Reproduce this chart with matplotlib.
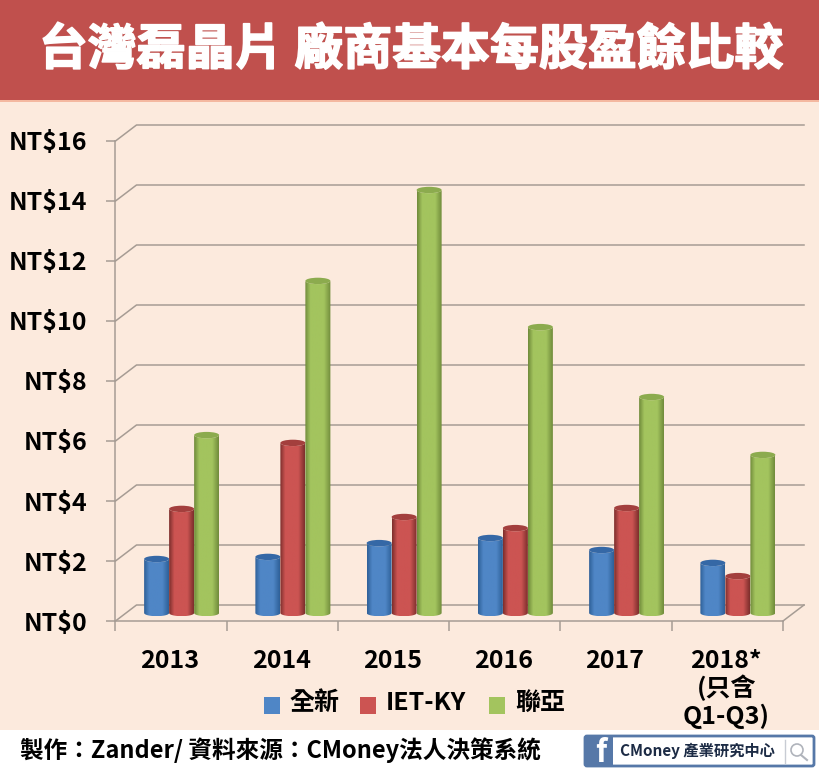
import numpy as np
import matplotlib
matplotlib.use("Agg")
import matplotlib.pyplot as plt
import matplotlib.patheffects as pe
from matplotlib.patches import PathPatch, Ellipse, Rectangle, FancyBboxPatch, Circle
from matplotlib.path import Path
from matplotlib.colors import LinearSegmentedColormap

plt.rcParams['font.family'] = ['Noto Sans CJK TC', 'DejaVu Sans']
plt.rcParams['font.weight'] = 'bold'

years = ['2013', '2014', '2015', '2016', '2017', '2018*\n(只含\nQ1-Q3)']
series_names = ['全新', 'IET-KY', '聯亞']
quanxin = [1.8, 1.87, 2.33, 2.5, 2.1, 1.67]
iet_ky = [3.47, 5.67, 3.2, 2.83, 3.5, 1.23]
lianya = [5.93, 11.07, 14.1, 9.53, 7.2, 5.27]
y_ticks = [0, 2, 4, 6, 8, 10, 12, 14, 16]

W, H = 820, 780
BG = '#FCEADD'
LINE = '#A69C94'
BANNER = '#C0504D'
# top cap, lit side, shaded edge
colors = [
    ('#3568A6', '#4F86C6', '#2F6199'),
    ('#A33F3D', '#CC5452', '#7E2F2D'),
    ('#8CAB4E', '#A3C45E', '#718C3C'),
]

fig = plt.figure(figsize=(W / 100, H / 100), dpi=100, facecolor='white')

# page layer in pixels
bg = fig.add_axes([0, 0, 1, 1])
bg.set_xlim(0, W)
bg.set_ylim(H, 0)
bg.axis('off')
bg.add_patch(Rectangle((0, 100), W, 630, fc=BG, ec='none'))
bg.add_patch(Rectangle((0, 0), W, 100, fc=BANNER, ec='none'))
bg.add_patch(Rectangle((0, 100), W, 1.5, fc='#F4B8A0', ec='none'))
title = bg.text(411, 50, '台灣磊晶片 廠商基本每股盈餘比較', color='white', fontsize=35.2,
                ha='center', va='center', fontweight='bold')
title.set_path_effects([pe.withStroke(linewidth=1.2, foreground='white')])
bg.text(20, 750, '製作：Zander/ 資料來源：CMoney法人決策系統', color='black', fontsize=17,
        ha='left', va='center', fontweight='bold')

# legend
leg_x = [264, 360, 489]
text_x = [289, 386, 515]
for c, lx, tx, name in zip(colors, leg_x, text_x, series_names):
    bg.add_patch(Rectangle((lx, 697), 16, 17, fc=c[1], ec='none'))
    bg.text(tx, 703, name, fontsize=18, ha='left', va='center', fontweight='bold')

# logo
bg.add_patch(FancyBboxPatch((585, 736), 229, 30, boxstyle='round,pad=0,rounding_size=2',
                            fc='white', ec='#5678A8', lw=2))
bg.add_patch(Rectangle((585, 736), 28, 30, fc='#5678A8', ec='none'))
bg.text(601, 753, 'f', color='white', fontsize=22, ha='center', va='center', fontweight='bold')
bg.text(620, 751, 'CMoney 產業研究中心', fontsize=11, ha='left', va='center', color='#1C2B45',
        fontweight='bold')
bg.plot([785, 785], [740, 763], color='#C8CCD4', lw=1)
bg.add_patch(Circle((797, 750), 6, fc='none', ec='#B0B4BC', lw=1.2))
bg.plot([801, 807], [755, 760], color='#B0B4BC', lw=1.5)

# chart front plane: x 115.5-783 px, y 621-141 px
ax = fig.add_axes([115.5 / W, 1 - 621 / H, (783 - 115.5) / W, 480 / H])
ax.patch.set_alpha(0)
ax.set_xlim(0, 6)
ax.set_ylim(0, 16)
for s in ['top', 'right']:
    ax.spines[s].set_visible(False)
for s in ['left', 'bottom']:
    ax.spines[s].set_color(LINE)
    ax.spines[s].set_linewidth(1.1)

dx = 21 / ((783 - 115.5) / 6)
dy = 16 / 30
for v in y_ticks:
    ax.plot([0, dx, 6 + dx], [v, v + dy, v + dy], color=LINE, lw=1.1, clip_on=False, zorder=1)
ax.plot([6, 6 + dx], [0, dy], color=LINE, lw=1.1, clip_on=False, zorder=1)

ax.set_yticks(y_ticks)
ax.set_yticklabels([f'NT${v}' for v in y_ticks], fontsize=18, fontweight='bold')
ax.set_xticks(range(7))
ax.set_xticklabels([])
ax.set_xticks([i + 0.49 for i in range(6)], minor=True)
ax.set_xticklabels(years, minor=True, fontsize=18, fontweight='bold', linespacing=1.1)
ax.tick_params(axis='y', length=6.5, width=1.1, color=LINE, pad=13.5)
ax.tick_params(axis='x', which='major', length=7, width=1.1, color=LINE)
ax.tick_params(axis='x', which='minor', length=0, pad=20)


def cylinder(xc, val, w, c, z):
    base = dy / 2
    top = base + val
    ry = 3.2 / 30
    t = np.linspace(np.pi, 2 * np.pi, 30)
    xs = np.concatenate([xc + w / 2 * np.cos(t), xc + w / 2 * np.cos(t[::-1])])
    ys = np.concatenate([base + ry * np.sin(t), top + ry * np.sin(t[::-1])])
    path = Path(np.column_stack([xs, ys]))
    cmap = LinearSegmentedColormap.from_list('cyl', [c[2], c[1], c[1], c[2]], N=64)
    grad = np.interp(np.linspace(0, 1, 64), [0, 0.25, 0.7, 1], [0, 0.4, 0.62, 1])[None, :]
    im = ax.imshow(grad, extent=(xc - w / 2, xc + w / 2, base - ry, top), cmap=cmap,
                   aspect='auto', zorder=z, vmin=0, vmax=1)
    im.set_clip_path(PathPatch(path, transform=ax.transData))
    ax.add_patch(Ellipse((xc, top), w, 2 * ry, fc=c[0], ec='none', zorder=z + 0.1, clip_on=False))


bar_w = 25 / ((783 - 115.5) / 6)
for j, vals in enumerate([quanxin, iet_ky, lianya]):
    for i, v in enumerate(vals):
        cylinder(i + 0.5 + dx / 2 + (j - 1) * bar_w, v, bar_w, colors[j], 3 + j)
ax.set_xlim(0, 6)
ax.set_ylim(0, 16)

fig.savefig('out.png', dpi=100, facecolor='white')
